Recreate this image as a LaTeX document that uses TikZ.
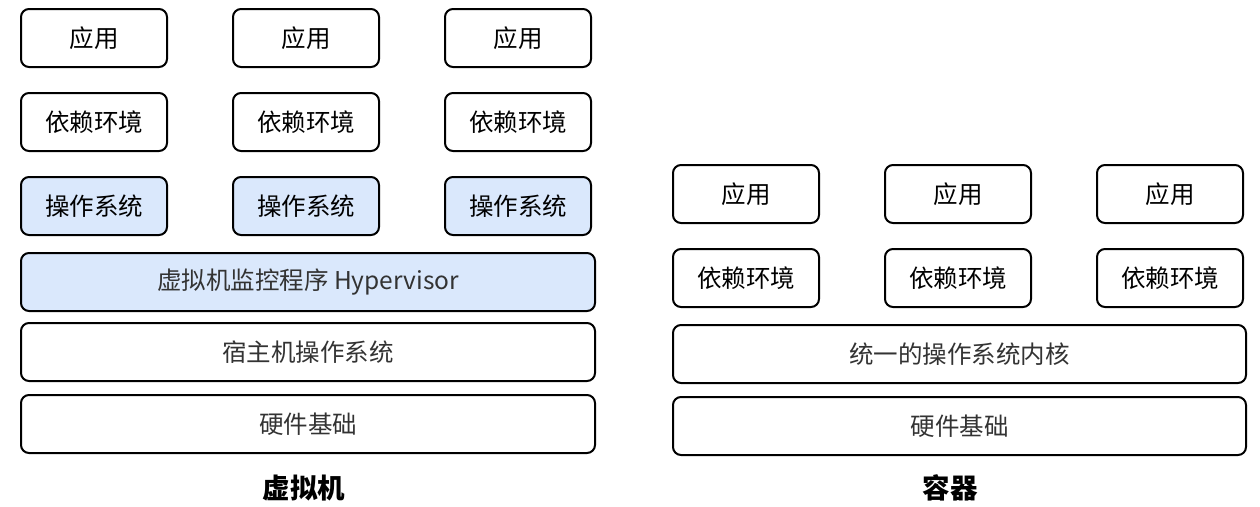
\documentclass[tikz,border=0pt]{standalone}
\usepackage{fontspec}
\setmainfont{Noto Sans CJK SC}
\definecolor{boxblue}{HTML}{DAE8FC}
\definecolor{layertext}{HTML}{333333}
\begin{document}
\begin{tikzpicture}[x=1pt,y=-1pt,
  card/.style={draw=black, line width=2pt, rounded corners=8pt, fill=white,
    minimum width=146pt, minimum height=58pt, inner sep=0pt,
    font=\fontsize{24.5}{27}\selectfont, text=black},
  osbox/.style={card, fill=boxblue},
  layer/.style={card, minimum width=574pt, text=layertext},
  title/.style={font=\fontsize{27.5}{31}\selectfont\bfseries, text=black}]
  \useasboundingbox (0,0) rectangle (1260,506);

  % virtual machine stack
  \foreach \c/\x in {1/94,2/306,3/518}{
    \node[card]  (vapp\c) at (\x,38)  {应用};
    \node[card]  (vdep\c) at (\x,122) {依赖环境};
    \node[osbox] (vos\c)  at (\x,206) {操作系统};
  }
  \node[layer, fill=boxblue] (hyper) at (308,282) {虚拟机监控程序 Hypervisor};
  \node[layer] (hostos) at (308,352) {宿主机操作系统};
  \node[layer] (vhw)    at (308,424) {硬件基础};
  \node[title] (vmtitle) at (304,488) {虚拟机};

  % container stack
  \foreach \c/\x in {1/746,2/958,3/1170}{
    \node[card] (capp\c) at (\x,194) {应用};
    \node[card] (cdep\c) at (\x,278) {依赖环境};
  }
  \node[layer, minimum width=573pt] (kernel) at (959.5,354) {统一的操作系统内核};
  \node[layer, minimum width=573pt] (chw)    at (959.5,426) {硬件基础};
  \node[title] (cttitle) at (950,488) {容器};
\end{tikzpicture}
\end{document}
